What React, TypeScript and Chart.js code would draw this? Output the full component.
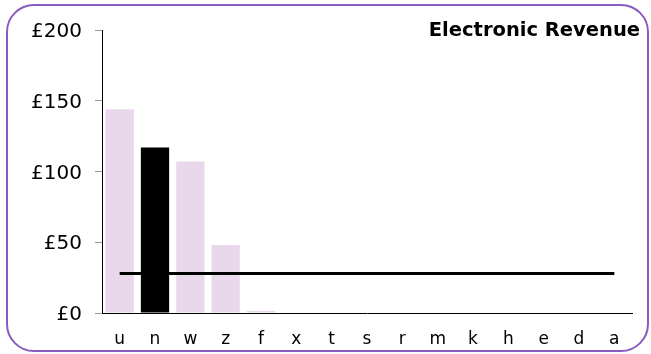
import React, { useEffect, useRef } from "react";
import { Chart, registerables } from "chart.js";

Chart.register(...registerables);

const categories = ["u", "n", "w", "z", "f", "x", "t", "s", "r", "m", "k", "h", "e", "d", "a"];
const revenue = [144, 117, 107, 48, 1.5, 0, 0, 0, 0, 0, 0, 0, 0, 0, 0];
const averageLine = [28, 28, 28, 28, 28, 28, 28, 28, 28, 28, 28, 28, 28, 28, 28];
const highlighted = "n";
const yTicks = [0, 50, 100, 150, 200];
const title = "Electronic Revenue";

const FONT = "'DejaVu Sans', Verdana, sans-serif";

export default function App() {
  const ref = useRef<HTMLCanvasElement>(null);

  useEffect(() => {
    if (!ref.current) return;
    const titlePlugin = {
      id: "cornerTitle",
      afterDraw(chart: any) {
        const ctx = chart.ctx;
        ctx.save();
        ctx.font = "bold 19.5px " + FONT;
        ctx.fillStyle = "#000";
        ctx.textAlign = "right";
        ctx.textBaseline = "middle";
        ctx.fillText(title, 640, 31);
        ctx.restore();
      },
    };
    const chart = new Chart(ref.current, {
      type: "bar",
      data: {
        labels: categories,
        datasets: [
          {
            type: "line",
            data: averageLine,
            borderColor: "#000",
            borderWidth: 3,
            pointRadius: 0,
            order: 0,
          } as any,
          {
            type: "bar",
            data: revenue,
            backgroundColor: categories.map((c) => (c === highlighted ? "#000" : "#e9d7eb")),
            barPercentage: 0.8,
            categoryPercentage: 1,
            order: 1,
          },
        ],
      },
      options: {
        animation: false,
        responsive: false,
        maintainAspectRatio: false,
        layout: { padding: { left: 0, right: 19, top: 30, bottom: 0 } },
        plugins: { legend: { display: false }, tooltip: { enabled: false }, title: { display: false } },
        scales: {
          x: {
            grid: { display: false, drawTicks: false },
            border: { display: true, color: "#000", width: 1 },
            ticks: { font: { family: FONT, size: 17 }, color: "#000", padding: 16, maxRotation: 0, autoSkip: false },
            afterFit: (s: any) => {
              s.height = 41;
            },
          },
          y: {
            min: 0,
            max: 200,
            afterBuildTicks: (s: any) => {
              s.ticks = yTicks.map((v) => ({ value: v }));
            },
            grid: { drawOnChartArea: false, drawTicks: true, tickLength: 7, tickColor: "#999" },
            border: { display: true, color: "#000", width: 1 },
            ticks: {
              font: { family: FONT, size: 20 },
              color: "#000",
              padding: 13,
              labelOffset: 2,
              callback: (v: any) => "£" + v,
            },
            afterFit: (s: any) => {
              s.width = 102;
            },
          },
        },
      },
      plugins: [titlePlugin],
    });
    return () => chart.destroy();
  }, []);

  return (
    <div style={{ position: "fixed", left: 0, top: 0, width: 651, height: 354, background: "#fff" }}>
      <div
        style={{
          position: "absolute",
          left: 6,
          top: 4,
          width: 643,
          height: 348,
          boxSizing: "border-box",
          border: "2px solid #8a5bbf",
          borderRadius: 28,
        }}
      />
      <canvas ref={ref} width={651} height={354} style={{ position: "absolute", left: 0, top: 0, width: 651, height: 354 }} />
    </div>
  );
}
